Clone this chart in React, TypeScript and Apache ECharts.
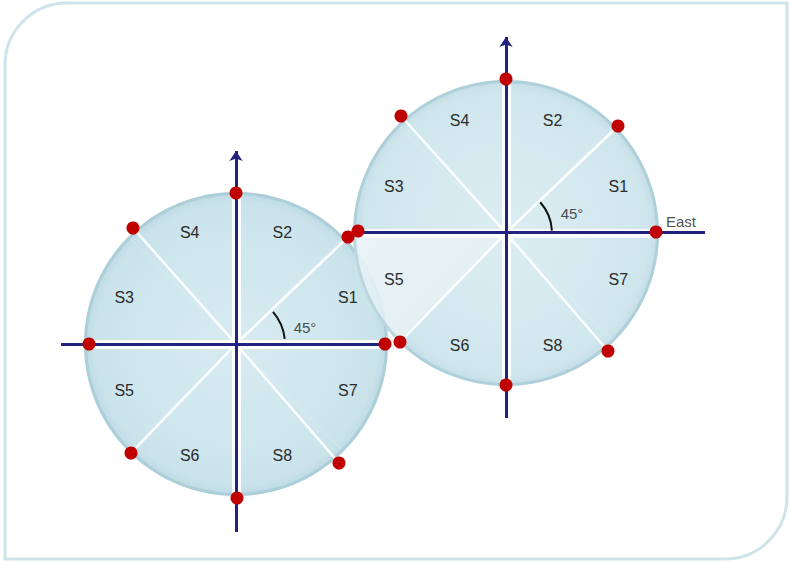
import React, { useEffect, useRef } from "react";
import * as echarts from "echarts";

// ---- data ----
// sectors, clockwise from north (pie startAngle 90)
const sectorNames = ["S2", "S1", "S7", "S8", "S6", "S5", "S3", "S4"];
const sectorDegrees = [45, 45, 45, 45, 45, 45, 45, 45];
const angleText = "45°";
const eastText = "East";

// red markers, order: E, NE, N, NW, W, SW, S, SE
const leftMarkers = [[385, 344], [348, 237], [236, 193], [133, 228], [89, 344], [131, 453], [237, 498], [339, 463]];
const rightMarkers = [[656, 232], [618, 126], [506, 79], [401, 116], [358, 231], [400, 342], [506, 385], [608, 351]];

// axis segments [from, to]
const leftAxisV = [[236, 532], [236, 151]];
const leftAxisH = [[61, 344], [390, 344]];
const rightAxisV = [[506, 418], [506, 37]];
const rightAxisH = [[358, 232], [705, 232]];

// ---- layout ----
const W = 791;
const H = 563;
const FONT = "'Liberation Sans', Arial, sans-serif";
const AXIS_COLOR = "#22227f";

const circles = [
  { cx: 236, cy: 344, r: 152, markers: leftMarkers, axisV: leftAxisV, axisH: leftAxisH, arc: [49, 6, 41], angleAt: [305, 327], opacity: 1, light: "", z: 1 },
  { cx: 506, cy: 233, r: 153, markers: rightMarkers, axisV: rightAxisV, axisH: rightAxisH, arc: [46, 3, 42], angleAt: [572, 213], opacity: 0.9, light: "S5", z: 20 },
];

function radial(cx: number, cy: number, r: number, stops: string[]) {
  return {
    type: "radial", x: cx, y: cy, r, global: true,
    colorStops: stops.map((c, i) => ({ offset: [0, 0.6, 0.93, 1][i], color: c })),
  };
}

function circleSeries(c: any): any[] {
  const z = c.z;
  const grad = radial(c.cx, c.cy, c.r, ["#d6ebf1", "#d0e7ee", "#cae3eb", "#bcd9e3"]);
  const lightGrad = {
    type: "linear", x: c.cx - c.r, y: c.cy, x2: c.cx, y2: c.cy + c.r, global: true,
    colorStops: [{ offset: 0, color: "#e8f2f6" }, { offset: 0.6, color: "#e0eef3" }, { offset: 1, color: "#d3e8ef" }],
  };
  const diag = [1, 3, 5, 7].map((i) => ({ coords: [[c.cx, c.cy], c.markers[i]] }));
  return [
    {
      type: "pie", silent: true, z, center: [c.cx, c.cy], radius: [0, c.r], startAngle: 90, clockwise: true,
      label: { show: false }, labelLine: { show: false },
      itemStyle: { color: grad, opacity: c.opacity, borderWidth: 0 },
      data: sectorNames.map((n, k) => ({
        name: n, value: sectorDegrees[k],
        itemStyle: n === c.light ? { color: lightGrad } : undefined,
      })),
    },
    {
      type: "pie", silent: true, z: z + 1, center: [c.cx, c.cy], radius: [c.r - 3, c.r],
      label: { show: false }, labelLine: { show: false },
      itemStyle: { color: "rgba(160,198,210,0.6)", borderWidth: 0 },
      data: [{ name: "rim", value: 1 }],
    },
    {
      type: "lines", coordinateSystem: "cartesian2d", silent: true, z: z + 2,
      lineStyle: { color: "rgba(255,255,255,0.95)", width: 2.5, opacity: 1 },
      data: diag,
    },
    {
      type: "lines", coordinateSystem: "cartesian2d", silent: true, z: z + 2,
      lineStyle: { color: "rgba(255,255,255,0.9)", width: 9, opacity: 1 },
      data: [
        { coords: [[c.cx, c.cy - c.r + 2], [c.cx, c.cy + c.r - 2]] },
        { coords: [[c.cx - c.r + 2, c.cy], [c.cx + c.r - 2, c.cy]] },
      ],
    },
    {
      type: "lines", coordinateSystem: "cartesian2d", silent: true, z: z + 3,
      symbol: ["none", "arrow"], symbolSize: 10,
      lineStyle: { color: AXIS_COLOR, width: 3, opacity: 1 },
      data: [{ coords: c.axisV }],
    },
    {
      type: "lines", coordinateSystem: "cartesian2d", silent: true, z: z + 3,
      symbol: ["none", "none"],
      lineStyle: { color: AXIS_COLOR, width: 3, opacity: 1 },
      data: [{ coords: c.axisH }],
    },
    {
      type: "pie", silent: true, z: z + 4, center: [c.cx, c.cy], radius: [84, c.r], startAngle: 90, clockwise: true,
      itemStyle: { color: "rgba(0,0,0,0)", borderWidth: 0 },
      labelLine: { show: false },
      label: { show: true, position: "inside", formatter: "{b}", color: "#2b2b2b", fontSize: 16, fontFamily: FONT },
      data: sectorNames.map((n, k) => ({ name: n, value: sectorDegrees[k] })),
    },
    {
      type: "custom", coordinateSystem: "cartesian2d", silent: true, z: z + 4,
      data: [[c.cx, c.cy, c.arc[0], c.arc[1], c.arc[2]]],
      renderItem: (_p: any, api: any) => {
        const p = api.coord([api.value(0), api.value(1)]);
        return {
          type: "arc",
          shape: { cx: p[0], cy: p[1], r: api.value(2), startAngle: (-api.value(4) * Math.PI) / 180, endAngle: (-api.value(3) * Math.PI) / 180, clockwise: true },
          style: { stroke: "#111", lineWidth: 2, fill: "none" },
        };
      },
    },
    {
      type: "scatter", silent: true, z: z + 4, symbolSize: 1, itemStyle: { color: "rgba(0,0,0,0)" },
      label: { show: true, position: "inside", formatter: "{b}", color: "#222", fontSize: 15, fontFamily: FONT },
      data: [{ name: angleText, value: c.angleAt }],
    },
  ];
}

const option: any = {
  animation: false,
  backgroundColor: "#ffffff",
  grid: { left: 0, right: 0, top: 0, bottom: 0 },
  xAxis: { type: "value", min: 0, max: W, show: false },
  yAxis: { type: "value", min: 0, max: H, inverse: true, show: false },
  graphic: [
    {
      type: "rect", z: -10, silent: true,
      shape: { x: 5, y: 3, width: 782, height: 556, r: [62, 0, 62, 0] },
      style: { fill: "#ffffff", stroke: "#cde5ea", lineWidth: 3 },
    },
  ],
  series: [
    ...circleSeries(circles[0]),
    ...circleSeries(circles[1]),
    {
      type: "scatter", silent: true, z: 60, symbolSize: 1, itemStyle: { color: "rgba(0,0,0,0)" },
      label: { show: true, position: "inside", formatter: "{b}", color: "#222", fontSize: 15, fontFamily: FONT },
      data: [{ name: eastText, value: [681, 221] }],
    },
    {
      type: "scatter", silent: true, z: 70, symbol: "circle", symbolSize: 13,
      itemStyle: { color: "#c00000", opacity: 1 },
      data: [...leftMarkers, ...rightMarkers],
    },
  ],
};

export default function App() {
  const ref = useRef<HTMLDivElement>(null);
  useEffect(() => {
    if (!ref.current) return;
    const chart = echarts.init(ref.current, undefined, { renderer: "svg" });
    chart.setOption(option);
    return () => chart.dispose();
  }, []);
  return <div ref={ref} style={{ position: "fixed", left: 0, top: 0, width: W, height: H }} />;
}
